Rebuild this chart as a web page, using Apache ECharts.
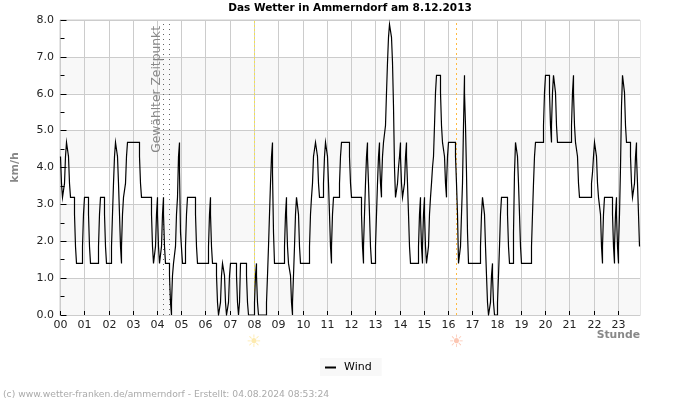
<!DOCTYPE html>
<html>
<head>
<meta charset="utf-8">
<style>html,body{margin:0;padding:0;background:#fff}#c{width:700px;height:400px}</style>
<script src="https://cdn.jsdelivr.net/npm/echarts@6/dist/echarts.min.js"></script>
</head>
<body>
<div id="c"></div>
<script>
// x is the sample number of the logged reading (the hours are not evenly spaced in samples)
const hourLabels = ['00','01','02','03','04','05','06','07','08','09','10','11','12','13','14','15','16','17','18','19','20','21','22','23'];
const hourSamples = [0,24,49,73,97,121,145,170,194,218,243,267,291,315,340,364,388,412,437,461,485,509,534,558];
const firstSample = -0.5;
const lastSample = 579.5;

// [sample, km/h] at every change of the reading
const windNight = [[0,4.3],[1,3.57],[2,3.19],[4,3.57],[5,4.3],[6,4.68],[8,4.3],[9,3.57],[10,3.19],[14,2.73],[15,1.86],[16,1.4],[22,1.86],[23,2.73],[24,3.19],[28,2.73],[29,1.86],[30,1.4],[38,1.86],[39,2.73],[40,3.19],[44,2.73],[45,1.86],[46,1.4],[51,1.86],[52,2.73],[53,3.57],[54,4.3],[55,4.68],[57,4.3],[58,3.57],[59,2.73],[60,1.86],[61,1.4],[61,1.86],[62,2.73],[63,3.19],[65,3.57],[66,4.3],[67,4.68],[79,4.3],[80,3.57],[81,3.19],[91,2.73],[92,1.86],[93,1.4],[95,1.86],[96,2.73],[97,3.19],[97,2.73],[98,1.86],[99,1.4],[101,1.86],[102,2.73],[103,3.19],[103,2.73],[104,1.86],[105,1.4],[109,1.07],[110,0.34],[111,0],[111,0.34],[112,1.07],[113,1.4],[115,1.86],[116,2.73],[117,3.19],[118,4.3],[119,4.68],[119,3.9],[120,2.24],[122,1.4]];
const windMorning = [[125,1.86],[126,2.73],[127,3.19],[135,2.73],[136,1.86],[137,1.4],[148,1.86],[149,2.73],[150,3.19],[150,2.73],[151,1.86],[152,1.4],[156,1.07],[157,0.34],[158,0],[160,0.34],[161,1.07],[162,1.4],[164,1.07],[165,0.34],[166,0],[168,0.34],[169,1.07],[170,1.4],[176,1.07],[177,0.34],[178,0],[179,0.34],[180,1.4],[186,1.07],[187,0.34],[188,0],[194,0.34],[195,1.07],[196,1.4],[196,1.07],[197,0.34],[198,0],[206,0.34],[207,1.07],[208,1.86],[209,2.73],[210,3.57],[211,4.3],[212,4.68],[212,3.86],[213,2.24],[214,1.4],[224,1.86],[225,2.73],[226,3.19],[226,2.73],[227,1.86],[228,1.4],[230,1.07],[231,0.34],[232,0],[232,0.34],[233,1.07],[234,1.86],[235,2.73],[236,3.19],[238,2.73],[239,1.86],[240,1.4]];
const windNoon = [[249,1.86],[250,2.73],[251,3.19],[252,3.57],[253,4.3],[255,4.68],[257,4.3],[258,3.57],[259,3.19],[263,3.57],[264,4.3],[265,4.68],[267,4.3],[268,3.57],[269,2.73],[270,1.86],[271,1.4],[271,1.86],[272,2.73],[273,3.19],[279,3.57],[280,4.3],[281,4.68],[289,4.3],[290,3.57],[291,3.19],[301,2.73],[302,1.86],[303,1.4],[303,1.86],[304,2.73],[305,3.57],[306,4.3],[307,4.68],[307,4.3],[308,3.57],[309,2.73],[310,1.86],[311,1.4],[315,1.86],[316,2.73],[317,3.57],[318,4.3],[319,4.68],[319,4.3],[320,3.57],[321,3.19],[321,3.57],[322,4.3],[323,4.68],[325,5.14],[326,6.03],[327,6.85],[328,7.53],[329,7.88],[331,7.53],[332,6.85],[333,5.66],[334,4.0],[335,3.19],[337,3.57],[338,4.0],[339,4.3],[340,4.68],[340,4.3],[341,3.57],[342,3.19],[344,3.57],[345,4.3],[346,4.68],[346,4.3],[347,3.57],[348,2.73],[349,1.86],[350,1.4]];
const windAfternoon = [[358,1.86],[359,2.73],[360,3.19],[360,2.73],[361,1.86],[362,1.4],[362,1.86],[363,2.73],[364,3.19],[364,2.73],[365,1.86],[366,1.4],[368,1.86],[369,2.73],[370,3.19],[371,3.57],[372,4.0],[373,4.3],[374,5.14],[375,6.03],[376,6.5],[380,6.03],[381,5.14],[382,4.68],[384,4.3],[385,3.57],[386,3.19],[386,3.57],[387,4.3],[388,4.68],[395,4.3],[396,3.57],[397,2.73],[398,1.4],[400,1.86],[401,2.73],[402,3.57],[403,5.14],[404,6.5],[404,6.03],[405,5.14],[406,3.86],[407,2.24],[408,1.4],[420,1.86],[421,2.73],[422,3.19],[424,2.73],[425,1.86],[426,1.07],[427,0.34],[428,0],[430,0.34],[431,1.07],[432,1.4],[432,1.07],[433,0.34],[434,0],[437,0.34],[438,1.07],[439,1.86],[440,2.73],[441,3.19],[447,2.73],[448,1.86],[449,1.4],[453,2.24],[454,3.86],[455,4.68],[457,4.3],[458,3.57],[459,2.73],[460,1.86],[461,1.4]];
const windEvening = [[471,1.86],[472,2.73],[473,3.57],[474,4.3],[475,4.68],[483,5.14],[484,6.03],[485,6.5],[489,6.03],[490,5.14],[491,4.68],[491,5.14],[492,6.03],[493,6.5],[495,6.03],[496,5.14],[497,4.68],[511,5.14],[512,6.03],[513,6.5],[513,6.03],[514,5.14],[515,4.68],[517,4.3],[518,3.57],[519,3.19],[531,3.57],[532,3.86],[533,4.3],[534,4.68],[536,4.3],[537,3.57],[538,3.19],[540,2.73],[541,1.86],[542,1.4],[542,1.86],[543,2.73],[544,3.19],[552,2.73],[553,1.86],[554,1.4],[554,1.86],[555,2.73],[556,3.19],[556,2.73],[557,1.86],[558,1.4],[558,1.86],[559,2.73],[560,4.0],[561,5.66],[562,6.5],[564,6.03],[565,5.14],[566,4.68],[570,4.3],[571,3.57],[572,3.19],[574,3.57],[575,4.3],[576,4.68],[576,4.3],[577,3.57],[578,2.73],[579,1.86]];

const selectedSamples = [103, 109];
const sunriseSample = 193.5;
const sunsetSample = 396;
const sunMarkY = -0.75;

const TXT = 'DejaVu Sans';
const chart = echarts.init(document.getElementById('c'), null, {renderer:'canvas'});
chart.setOption({
  animation:false,
  backgroundColor:'#fff',
  title:{text:'Das Wetter in Ammerndorf am 8.12.2013',left:'center',top:3,itemGap:0,padding:0,
    textStyle:{fontFamily:TXT,fontSize:10.5,fontWeight:'bold',color:'#000'}},
  grid:{left:60,width:580,top:20,height:295,show:true,borderColor:'#ccc',borderWidth:1,backgroundColor:'transparent'},
  legend:{data:[{name:'Wind',icon:'rect',itemStyle:{color:'#000'}}],left:320,top:358,orient:'horizontal',backgroundColor:'#f8f8f8',padding:[4,10,3,5],
    itemWidth:11,itemHeight:2,itemGap:5,
    textStyle:{fontFamily:TXT,fontSize:11,color:'#000',padding:[0,0,0,3]}},
  xAxis:{type:'value',min:firstSample,max:lastSample,
    axisLine:{show:true,onZero:false,lineStyle:{color:'#ccc',width:1}},
    axisTick:{show:true,inside:true,length:4,lineStyle:{color:'#000',width:1},customValues:hourSamples},
    axisLabel:{show:true,margin:5,fontFamily:TXT,fontSize:11,color:'#222',customValues:hourSamples,hideOverlap:false,
      formatter:function(v){const i=hourSamples.indexOf(v);return i<0?'':hourLabels[i];}},
    splitLine:{show:true,lineStyle:{color:'#ccc',width:1}},
    minorTick:{show:false},splitArea:{show:false}},
  yAxis:{type:'value',min:0,max:8,interval:1,
    name:'km/h',nameLocation:'middle',nameGap:39,
    nameTextStyle:{fontFamily:TXT,fontSize:11,fontWeight:'bold',color:'#888'},
    axisLine:{show:true,lineStyle:{color:'#ccc',width:1}},
    axisTick:{show:true,inside:true,length:6,lineStyle:{color:'#000',width:1}},
    minorTick:{show:true,splitNumber:2,length:4,lineStyle:{color:'#000',width:1}},
    axisLabel:{margin:6,fontFamily:TXT,fontSize:11,color:'#222',formatter:function(v){return v.toFixed(1);}},
    splitLine:{show:true,lineStyle:{color:'#ccc',width:1}},
    splitArea:{show:true,areaStyle:{color:['#f8f8f8','#ffffff']}}},
  series:[
    {name:'Wind',type:'line',step:'end',showSymbol:false,symbol:'none',silent:true,z:5,
     data:[].concat(windNight,windMorning,windNoon,windAfternoon,windEvening),
     lineStyle:{color:'#000',width:1.2,join:'miter',cap:'butt'},itemStyle:{color:'#000'},
     markLine:{silent:true,symbol:'none',animation:false,z:4,
       data:[
         {xAxis:selectedSamples[0],lineStyle:{color:'#666',type:[1,4],width:1},
          label:{show:true,position:'insideEndTop',distance:1,padding:[0,5,0,0],formatter:'Gewählter Zeitpunkt',fontFamily:TXT,fontSize:12.3,color:'#888'}},
         {xAxis:selectedSamples[1],lineStyle:{color:'#666',type:[1,4],width:1},label:{show:false}},
         {xAxis:sunriseSample,lineStyle:{color:'#f2e050',type:[2,2],width:1},label:{show:false}},
         {xAxis:sunsetSample,lineStyle:{color:'#ffbb44',type:[2,3],width:1},label:{show:false}}
       ]}},
    {name:'Sun',type:'scatter',clip:false,silent:true,symbol:'circle',symbolSize:0,z:6,
     data:[
       {value:[sunriseSample,sunMarkY],label:{color:'#fde59a'}},
       {value:[sunsetSample,sunMarkY],label:{color:'#fbb9a0'}}
     ],
     label:{show:true,position:'inside',formatter:'☀',fontFamily:TXT,fontSize:17}}
  ],
  graphic:[
    {type:'text',left:3,top:390,silent:true,
     style:{text:'(c) www.wetter-franken.de/ammerndorf - Erstellt: 04.08.2024 08:53:24',fontFamily:TXT,fontSize:9.2,fill:'#aaa'}},
    {type:'text',right:60,top:330,silent:true,
     style:{text:'Stunde',fontFamily:TXT,fontSize:10.8,fontWeight:'bold',fill:'#888'}}
  ]
});
</script>
</body>
</html>
